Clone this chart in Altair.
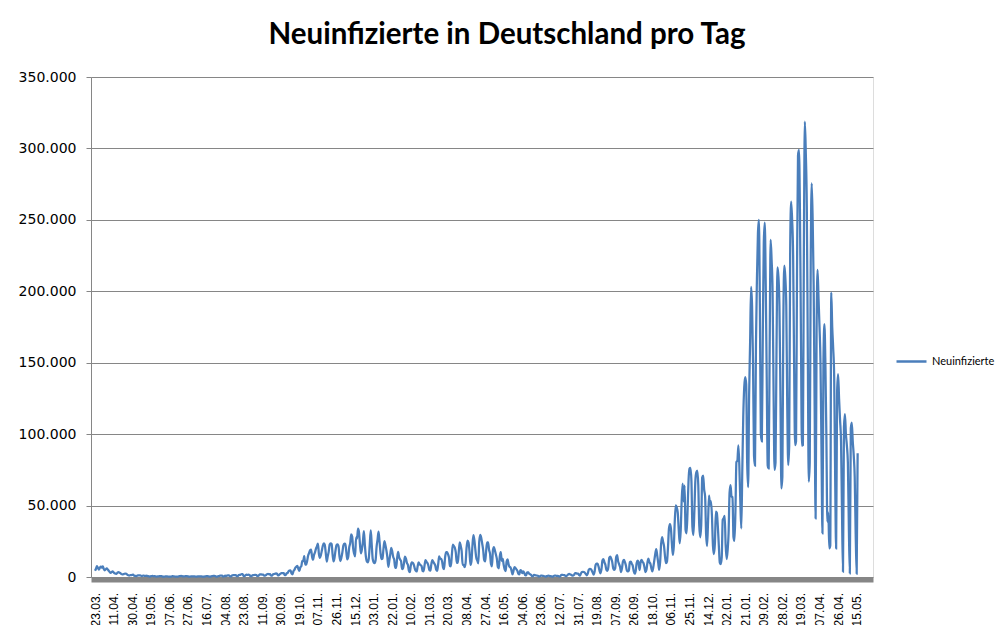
import altair as alt
import pandas as pd

title_text = "Neuinfizierte in Deutschland pro Tag"
series_name = "Neuinfizierte"

tick_labels = ["23.03.", "11.04.", "30.04.", "19.05.", "07.06.", "27.06.", "16.07.", "04.08.",
               "23.08.", "11.09.", "30.09.", "19.10.", "07.11.", "26.11.", "15.12.", "03.01.",
               "22.01.", "10.02.", "01.03.", "20.03.", "08.04.", "27.04.", "16.05.", "04.06.",
               "23.06.", "12.07.", "31.07.", "19.08.", "07.09.", "26.09.", "18.10.", "06.11.",
               "25.11.", "14.12.", "02.01.", "21.01.", "09.02.", "28.02.", "19.03.", "07.04.",
               "26.04.", "15.05."]
y_ticks = [0, 50000, 100000, 150000, 200000, 250000, 300000, 350000]

# daily values (one row per week, Mon..Sun where possible)
wave1_2020 = [
    4400, 5800, 7700, 6400, 5200, 6500, 7300,
    6500, 7500, 5600, 4700, 5400, 6100, 5300,
    4400, 3500, 2900, 3400, 3900, 3300, 2600,
    2400, 2200, 3000, 3400, 3100, 2700, 2000,
    1800, 1900, 2300, 2400, 2200, 1700, 1200,
    1000, 1300, 1300, 1500, 1600, 900, 800,
    700, 900, 1100, 1200, 1200, 900, 600,
    900, 900, 800, 800, 900, 600, 500,
    300, 500, 700, 800, 500, 600, 400,
    300, 400, 400, 700, 700, 600, 300,
    200, 300, 400, 500, 400, 300, 300,
    200, 300, 600, 500, 400, 300, 200,
    200, 300, 600, 600, 800, 600, 500,
    500, 500, 600, 600,
]
summer_2020 = [
    500, 300,
    300, 400, 500, 500, 400, 400, 300,
    200, 400, 400, 500, 400, 400, 200,
    200, 300, 500, 600, 600, 500, 300,
    300, 500, 600, 800, 800, 700, 300,
    300, 600, 700, 900, 900, 900, 300,
    500, 900, 700, 1000, 1100, 1100, 500,
    400, 1000, 1200, 1400, 1400, 1400, 600,
    600, 1400, 1500, 1700, 2000, 2000, 700,
    700, 1300, 1600, 1500, 1600, 1400, 600,
    600, 1200, 1300, 1400, 1500, 1400, 800,
    800, 1500, 1800, 1900, 1600, 1600, 900,
    900, 1400, 2000, 2200, 1900, 2000, 900,
    900, 1800, 2100, 2200, 2500, 2400, 1200,
    1200, 2000, 2500, 2700, 2800, 2700, 1400,
    1400, 2600, 2800, 4000, 4500, 4700, 2500,
    1900, 4100, 5100, 6600, 7300, 7800, 5600,
]
wave2_2020 = [
    4300, 6900, 7600, 11300, 11200, 14700, 8700,
    8700, 11400, 15000, 16800, 18700, 19100, 14200,
    12100, 15400, 17200, 19900, 21500, 23400, 16000,
    13400, 15300, 18500, 21900, 23500, 22500, 16900,
    10800, 14400, 17600, 22600, 23600, 23000, 15700,
    10900, 13600, 18600, 22300, 22800, 21700, 14600,
    11200, 13600, 17300, 22000, 23400, 23300, 17800,
    12300, 14100, 20800, 23700, 29900, 28400, 20200,
    16400, 14400, 27700, 26900, 33800, 31300, 22800,
    16600, 19500, 24700, 32200, 22400, 14500, 10900,
    10300, 12900, 22500, 32600, 22900, 12700, 10300,
    9800, 11900, 21200, 26400, 31800, 24700, 16900,
    12500, 12800, 19600, 25200, 22400, 18700, 13900,
    7100, 11400, 15900, 20400, 17900, 14000, 12300,
    6400, 6400, 13200, 17600, 14000, 12300, 11200,
    5600, 6100, 9700, 14200, 12900, 9900, 8600,
    4500, 3400, 8100, 10200, 9900, 8700, 6100,
    4400, 3900, 7600, 10200, 9000, 8300, 7700,
    4300, 4000, 8000, 11900, 10600, 9800, 7900,
]
wave3_2021 = [
    4700, 4500, 9000, 11900, 10600, 9500, 8100,
    5000, 4300, 9100, 14400, 12800, 12700, 10800,
    6600, 5500, 13400, 17500, 17500, 16000, 13700,
    7700, 7500, 15800, 22700, 21600, 20500, 17200,
    9900, 10000, 17000, 24300, 21900, 18100, 8500,
    8500, 6900, 9700, 20400, 25500, 24100, 17900,
    8500, 10800, 21700, 29400, 25800, 19200, 13200,
    11400, 9600, 24900, 29500, 27500, 23400, 18800,
    11900, 10900, 18000, 24300, 24300, 19100, 16300,
    9100, 7500, 19000, 21000, 18500, 15700, 12700,
    6900, 6100, 14400, 17400, 11300, 12700, 8400,
    5400, 4200, 11000, 12300, 8900, 7100, 6700,
    4500, 1900, 4300, 7000, 6300, 5400, 4300,
    2200, 1800, 4900, 4400, 2700, 3900, 3000,
]
summer_2021 = [
    1200, 1100, 3300, 3200, 2400, 1900, 1500,
    550, 650, 1500, 1300, 1100, 1000, 800,
    350, 500, 1000, 900, 800, 700, 500,
    200, 600, 800, 900, 700, 700, 400,
    200, 650, 1000, 950, 800, 750, 600,
    350, 650, 1550, 1450, 1400, 1300, 900,
    550, 1200, 1900, 2200, 1800, 1600, 1100,
    1000, 1500, 2800, 2800, 2400, 2400, 1400,
    900, 2500, 3500, 3600, 3500, 3000, 2100,
    1200, 2500, 5000, 5700, 5600, 4600, 3100,
    1600, 3900, 8400, 9300, 9300, 7300, 4400,
    2600, 5500, 11600, 12600, 10300, 8600, 5000,
    4300, 6700, 13500, 14300, 12800, 10500, 6000,
    5000, 6000, 14000, 15400, 11000, 9000, 7000,
    3500, 6300, 11000, 12000, 10400, 8000, 4400,
    3900, 4600, 10400, 10800, 9200, 7800, 4000,
    2300, 4200, 9800, 11500, 9700,
    4900, 10500, 12000, 10600, 9700, 6700,
    3500, 5100, 10000, 12900, 10400, 9300, 6200,
]
wave4_2021 = [
    4000, 6900, 11500, 16100, 19600, 15100, 10000,
    5000, 10500, 23200, 28000, 24700, 21500, 14300,
    9700, 10800, 20400, 33900, 37100, 34000, 23500,
    15500, 21800, 39700, 50200, 48600, 45100, 33500,
    23600, 32000, 52800, 65400, 52900, 63900, 33000,
    30600, 45300, 66900, 75900, 76400, 67100, 35000,
    29400, 45800, 67200, 73200, 74400, 64500, 36000,
    27800, 36100, 69600, 70900, 61300, 56300, 30000,
    21700, 38700, 57000, 50600, 53200, 42400, 22000,
    16100, 23400, 45700, 44900, 35400, 22200, 10100,
    9100, 13900, 40000, 41200, 42800, 22200, 12500,
    18500, 30600, 58900, 64300, 56300, 55900, 28000,
    25300, 45700, 80400, 81400, 92200, 78000, 52500,
]
omicron_2022 = [
    34000, 74000, 112000, 133000, 140000, 135000, 80000,
    63000, 127000, 164000, 203000, 190000, 150000, 85000,
    78000, 163000, 209000, 240000, 250000, 190000, 100000,
    95000, 170000, 234000, 248000, 205000, 140000, 78000,
    76000, 159000, 236000, 222000, 200000, 130000, 75000,
    80000, 159000, 216800, 210000, 190000, 130000, 62000,
    70000, 180000, 218000, 210000, 190000, 120000, 78400,
    92000, 230000, 262700, 250000, 225000, 150000, 92400,
    95000, 215000, 295000, 299000, 255000, 170000, 92000,
    92400, 230000, 318700, 296000, 260000, 160000, 66700,
    80000, 220000, 275600, 250000, 205000, 120000, 41000,
    170000, 215000, 195000, 175000, 150000, 90000, 30600,
    150000, 177000, 150000, 100000, 38700, 45000, 20000,
    22000, 199000, 175000, 160000, 140000, 70000, 20000,
    130000, 142000, 125000, 110000, 95000, 45000, 3700,
    105000, 114000, 100000, 92000, 80000, 35000, 2600,
    104000, 108000, 95000, 85000, 70000, 30000, 2300,
    86600,
]

values = wave1_2020 + summer_2020 + wave2_2020 + wave3_2021 + summer_2021 + wave4_2021 + omicron_2022
df = pd.DataFrame({"tag": list(range(len(values))), "faelle": values, "reihe": series_name})

label_step = 19
tick_pos = [label_step * k for k in range(len(tick_labels))]
label_expr = "[" + ",".join("'" + t + "'" for t in tick_labels) + "][round(datum.value / %d)]" % label_step

chart = alt.Chart(df).mark_line(interpolate="monotone", strokeWidth=2.25).encode(
    x=alt.X("tag:Q",
            scale=alt.Scale(domain=[-4.1, 795.7], nice=False, zero=False),
            axis=alt.Axis(values=tick_pos, labelExpr=label_expr, labelAngle=270,
                          labelAlign="right", labelBaseline="middle",
                          labelFont="Liberation Sans", labelFontSize=12, labelColor="black",
                          tickSize=0, domainColor="#868686", domainWidth=5, offset=2.5,
                          grid=False, title=None, labelPadding=13, labelOverlap=False)),
    y=alt.Y("faelle:Q",
            scale=alt.Scale(domain=[0, 350000], nice=False),
            axis=alt.Axis(values=y_ticks, labelExpr="replace(format(datum.value, ','), ',', '.')",
                          grid=True, gridColor="#868686", gridWidth=1,
                          domainColor="#868686", tickColor="#868686", tickSize=5,
                          labelPadding=10, labelFont="DejaVu Sans", labelFontSize=14,
                          labelColor="black", title=None)),
    color=alt.Color("reihe:N", scale=alt.Scale(range=["#4a7ebb"]),
                    legend=alt.Legend(title=None, orient="none", legendX=804, legendY=268,
                                      symbolType="stroke", symbolSize=900, symbolStrokeWidth=2.5,
                                      labelFont="Lato", labelFontSize=11, labelOffset=4,
                                      labelColor="black")),
).properties(
    width=782, height=500,
    title=alt.TitleParams(title_text, font="Lato", fontSize=29.5, fontWeight="bold",
                          anchor="middle", dx=25, offset=20, color="black"),
    autosize="none",
    padding={"left": 83, "top": 69, "right": 126, "bottom": 48},
).configure_view(stroke="transparent").configure(background="white")

chart.save("out.html", embed_options={"renderer": "svg", "actions": False})
